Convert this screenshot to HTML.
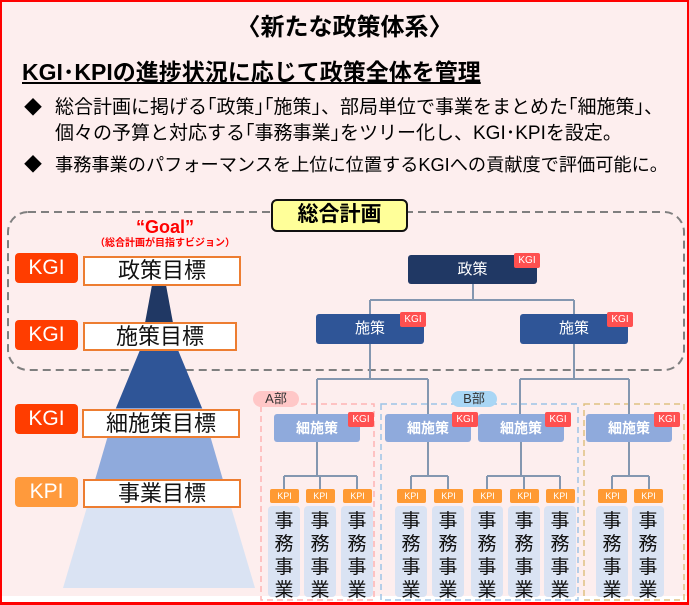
<!DOCTYPE html>
<html><head><meta charset="utf-8"><style>
*{margin:0;padding:0;box-sizing:border-box}
body{width:689px;height:605px;position:relative;overflow:hidden;background:#fff;font-family:"Liberation Sans","Noto Sans CJK JP",sans-serif}
.a{position:absolute;white-space:nowrap}
.bg{left:0;top:0;width:689px;height:596px;background:#fdeeee}
.frame{left:0;top:0;width:689px;height:605px;border:2px solid #ff0000;border-width:2px 2px 3px 2px}
.badge{position:absolute;color:#fff;border-radius:4px;text-align:center;font-size:21px;line-height:30px;height:30px;width:63px}
.tgt{position:absolute;background:#fff;border:2px solid #ed7d31;text-align:center;font-size:22px;line-height:25px;color:#111}
.node{position:absolute;color:#fff;border-radius:3px;text-align:center;font-size:15px}
.kgi{position:absolute;background:#ff5050;color:#fff;font-size:10px;line-height:15px;height:15px;width:26px;text-align:center;border-radius:2px}
.kpi{position:absolute;background:#ff9a33;color:#fff;font-size:9px;line-height:14px;height:14px;width:29px;text-align:center;border-radius:2px}
.jm{position:absolute;background:#dae3f3;border-radius:4px;width:32px;height:91px;font-size:19px;line-height:23px;text-align:center;color:#111;padding-top:4px;white-space:normal}
</style></head><body>
<div class="a bg"></div>
<svg class="a" style="left:0;top:0" width="689" height="605">
 <rect x="8" y="212" width="676" height="158" rx="20" fill="none" stroke="#7f7f7f" stroke-width="2" stroke-dasharray="8,5"/>
 <polygon points="152,285 166,285 178,350 140,350" fill="#203864"/>
 <polygon points="140,350 178,350 202,408 116,408" fill="#2f5597"/>
 <polygon points="116,408 202,408 223,480 95,480" fill="#8faadc"/>
 <polygon points="95,480 223,480 255,588 63,588" fill="#dae3f3"/>
 <rect x="261" y="404" width="113" height="196" fill="none" stroke="#ffb3b3" stroke-width="1.5" stroke-dasharray="6,4"/>
 <rect x="381" y="404" width="197" height="196" fill="none" stroke="#9dc3e6" stroke-width="1.5" stroke-dasharray="6,4"/>
 <rect x="584" y="404" width="100" height="196" fill="none" stroke="#e0c080" stroke-width="1.5" stroke-dasharray="6,4"/>
 <g stroke="#8497b0" stroke-width="2" fill="none">
  <path d="M473 284V300M370 300H574M370 300V314M574 300V314"/>
  <path d="M370 344V379M317 379H428M317 379V414M428 379V414"/>
  <path d="M574 344V379M520 379H629M520 379V414M629 379V414"/>
  <path d="M317 442V476M284 476H357M284 476V490M320 476V490M357 476V490"/>
  <path d="M428 442V476M411 476H448M411 476V490M448 476V490"/>
  <path d="M521 442V476M487 476H560M487 476V490M524 476V490M560 476V490"/>
  <path d="M629 442V476M612 476H649M612 476V490M649 476V490"/>
 </g>
</svg>
<div class="a" style="left:0;top:12px;width:689px;text-align:center;font-size:24px;font-weight:bold;line-height:32px">〈新たな政策体系〉</div>
<div class="a" style="left:22px;top:57px;font-size:23px;font-weight:bold;text-decoration:underline;line-height:30px">KGI･KPIの進捗状況に応じて政策全体を管理</div>
<div class="a" style="left:24px;top:96px;font-size:18px;line-height:24px">◆</div>
<div class="a" style="left:55px;top:95px;font-size:19px;line-height:26px">総合計画に掲げる｢政策｣｢施策｣、部局単位で事業をまとめた｢細施策｣、<br>個々の予算と対応する｢事務事業｣をツリー化し、KGI･KPIを設定。</div>
<div class="a" style="left:24px;top:153px;font-size:18px;line-height:24px">◆</div>
<div class="a" style="left:55px;top:152px;font-size:18.2px;line-height:26px">事務事業のパフォーマンスを上位に位置するKGIへの貢献度で評価可能に。</div>
<div class="a" style="left:271px;top:199px;width:137px;height:33px;background:#ffff99;border:2px solid #111;border-radius:6px;text-align:center;font-size:21px;font-weight:bold;line-height:28px">総合計画</div>
<div class="a" style="left:82px;top:216px;width:166px;text-align:center;color:#ff0000;font-weight:bold;font-size:18px;line-height:22px">“Goal”</div>
<div class="a" style="left:82px;top:237px;width:166px;text-align:center;color:#ff0000;font-weight:bold;font-size:10px;line-height:13px">（総合計画が目指すビジョン）</div>
<div class="badge" style="left:15px;top:253px;background:#ff3d00">KGI</div>
<div class="tgt" style="left:83px;top:256px;width:158px;height:30px">政策目標</div>
<div class="badge" style="left:15px;top:320px;background:#ff3d00">KGI</div>
<div class="tgt" style="left:83px;top:322px;width:154px;height:29px">施策目標</div>
<div class="badge" style="left:15px;top:404px;background:#ff3d00">KGI</div>
<div class="tgt" style="left:82px;top:409px;width:158px;height:29px">細施策目標</div>
<div class="badge" style="left:15px;top:477px;background:#ff9a3c">KPI</div>
<div class="tgt" style="left:83px;top:479px;width:158px;height:29px">事業目標</div>
<div class="node" style="left:408px;top:255px;width:129px;height:29px;line-height:29px;background:#203864">政策</div>
<div class="kgi" style="left:514px;top:253px">KGI</div>
<div class="node" style="left:316px;top:314px;width:108px;height:30px;line-height:30px;background:#2f5597">施策</div>
<div class="kgi" style="left:400px;top:312px">KGI</div>
<div class="node" style="left:520px;top:314px;width:108px;height:30px;line-height:30px;background:#2f5597">施策</div>
<div class="kgi" style="left:607px;top:312px">KGI</div>
<div class="a" style="left:253px;top:391px;width:46px;height:16px;border-radius:8px;background:#ffc7c7;text-align:center;font-size:13px;line-height:16px;color:#333">A部</div>
<div class="a" style="left:451px;top:391px;width:46px;height:16px;border-radius:8px;background:#a9d6f5;text-align:center;font-size:13px;line-height:16px;color:#333">B部</div>
<div class="node" style="left:274px;top:414px;width:86px;height:28px;line-height:28px;background:#8faadc;font-weight:bold;font-size:14px">細施策</div>
<div class="kgi" style="left:348px;top:412px">KGI</div>
<div class="node" style="left:385px;top:414px;width:86px;height:28px;line-height:28px;background:#8faadc;font-weight:bold;font-size:14px">細施策</div>
<div class="kgi" style="left:452px;top:412px">KGI</div>
<div class="node" style="left:478px;top:414px;width:86px;height:28px;line-height:28px;background:#8faadc;font-weight:bold;font-size:14px">細施策</div>
<div class="kgi" style="left:545px;top:412px">KGI</div>
<div class="node" style="left:586px;top:414px;width:86px;height:28px;line-height:28px;background:#8faadc;font-weight:bold;font-size:14px">細施策</div>
<div class="kgi" style="left:654px;top:412px">KGI</div>

<div class="kpi" style="left:270px;top:489px">KPI</div><div class="jm" style="left:268px;top:506px">事務事業</div>
<div class="kpi" style="left:306px;top:489px">KPI</div><div class="jm" style="left:304px;top:506px">事務事業</div>
<div class="kpi" style="left:343px;top:489px">KPI</div><div class="jm" style="left:341px;top:506px">事務事業</div>
<div class="kpi" style="left:397px;top:489px">KPI</div><div class="jm" style="left:395px;top:506px">事務事業</div>
<div class="kpi" style="left:434px;top:489px">KPI</div><div class="jm" style="left:432px;top:506px">事務事業</div>
<div class="kpi" style="left:473px;top:489px">KPI</div><div class="jm" style="left:471px;top:506px">事務事業</div>
<div class="kpi" style="left:510px;top:489px">KPI</div><div class="jm" style="left:508px;top:506px">事務事業</div>
<div class="kpi" style="left:546px;top:489px">KPI</div><div class="jm" style="left:544px;top:506px">事務事業</div>
<div class="kpi" style="left:598px;top:489px">KPI</div><div class="jm" style="left:596px;top:506px">事務事業</div>
<div class="kpi" style="left:634px;top:489px">KPI</div><div class="jm" style="left:632px;top:506px">事務事業</div>
<div class="a frame"></div>
</body></html>
